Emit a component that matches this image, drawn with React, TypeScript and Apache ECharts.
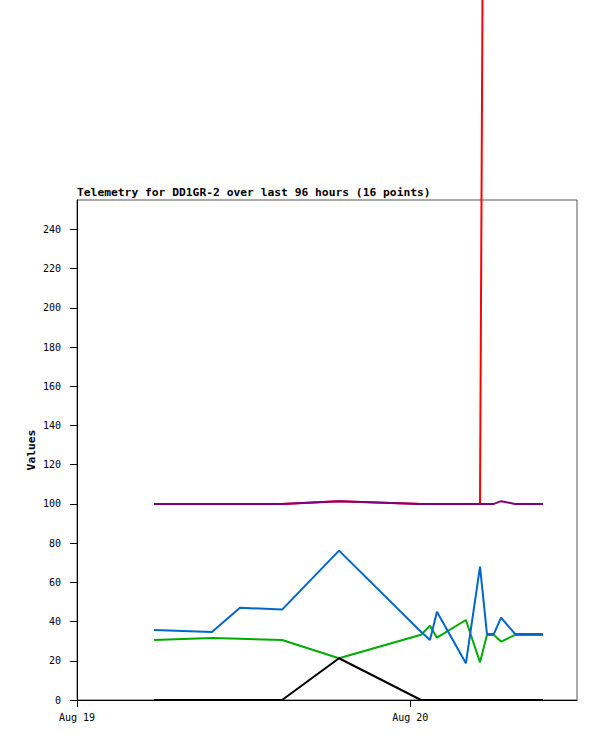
import React, { useEffect, useRef } from "react";
import * as echarts from "echarts";

const times = [
  "2024-08-19 05:33", "2024-08-19 09:43", "2024-08-19 11:44", "2024-08-19 14:46",
  "2024-08-19 18:52", "2024-08-20 00:46", "2024-08-20 01:25", "2024-08-20 01:55",
  "2024-08-20 04:00", "2024-08-20 05:01", "2024-08-20 05:31", "2024-08-20 06:01",
  "2024-08-20 06:32", "2024-08-20 07:32", "2024-08-20 09:33",
];
const redValues = [100, 100, 100, 100, 101.4, 100, 100, 100, 100, 100, 820, null, null, null, null];
const greenValues = [30.6, 31.6, 31.2, 30.6, 21.3, 33.3, 37.9, 31.8, 40.8, 19.2, 33.2, 33.2, 29.8, 33.2, 33.2];
const blueValues = [35.7, 34.7, 47.1, 46.1, 76.2, 34.8, 30.6, 45, 18.7, 68, 33.7, 33.7, 42, 33.7, 33.7];
const blackValues = [0, 0, 0, 0, 21.3, 0, 0, 0, 0, 0, 0, 0, 0, 0, 0];
const purpleValues = [100, 100, 100, 100, 101.4, 100, 100, 100, 100, 100, 100, 100, 101.4, 100, 100];

const xTickDates = ["2024-08-19 00:00", "2024-08-20 00:00"];
const xTickLabels = ["Aug 19", "Aug 20"];
const xMinDate = "2024-08-19 00:00";
const xMaxDate = "2024-08-20 12:00";
const yTicks = [0, 20, 40, 60, 80, 100, 120, 140, 160, 180, 200, 220, 240];
const yMax = 255;
const yAxisTitle = "Values";

const FONT = "DejaVu Sans Mono";

function toHours(s: string): number {
  const [d, hm] = s.split(" ");
  const [y, mo, da] = d.split("-").map(Number);
  const [h, mi] = hm.split(":").map(Number);
  return Date.UTC(y, mo - 1, da, h, mi) / 3600000;
}

export default function App() {
  const ref = useRef<HTMLDivElement>(null);
  useEffect(() => {
    if (!ref.current) return;
    const chart = echarts.init(ref.current, null, { renderer: "svg" });
    const base = toHours(xMinDate);
    const t = times.map((s) => toHours(s) - base);
    const xTickValues = xTickDates.map((s) => toHours(s) - base);
    const mk = (vals: (number | null)[]) => vals.map((v, i) => [t[i], v]);
    const line = (name: string, vals: (number | null)[], color: string, clip = true) => ({
      name,
      type: "line",
      data: mk(vals),
      showSymbol: false,
      symbol: "none",
      clip,
      lineStyle: { color, width: 2 },
      itemStyle: { color },
      emphasis: { disabled: true },
    });
    chart.setOption({
      animation: false,
      title: {
        text: "Telemetry for DD1GR-2 over last 96 hours (16 points)",
        left: 77,
        top: 187,
        padding: 0,
        textStyle: { fontFamily: FONT, fontWeight: "bold", fontSize: 11.3, color: "#000" },
      },
      graphic: [
        {
          type: "text",
          x: 31,
          y: 450,
          rotation: Math.PI / 2,
          style: {
            text: yAxisTitle,
            fontFamily: FONT,
            fontWeight: "bold",
            fontSize: 11.3,
            fill: "#000",
            align: "center",
            verticalAlign: "middle",
          },
        },
      ],
      grid: {
        left: 77,
        top: 200,
        width: 500,
        height: 500,
        show: true,
        borderColor: "#555",
        borderWidth: 1,
        backgroundColor: "transparent",
        containLabel: false,
      },
      xAxis: {
        type: "value",
        min: 0,
        max: toHours(xMaxDate) - base,
        axisLine: { onZero: false, lineStyle: { color: "#000", width: 1 } },
        axisTick: { show: true, length: 7, customValues: xTickValues, lineStyle: { color: "#000" } },
        axisLabel: {
          customValues: xTickValues,
          formatter: (v: number) => {
            const i = xTickValues.indexOf(v);
            return i >= 0 ? xTickLabels[i] : "";
          },
          margin: 12,
          fontFamily: FONT,
          fontSize: 10,
          color: "#000",
        },
        splitLine: { show: false },
      },
      yAxis: {
        type: "value",
        min: 0,
        max: yMax,
        axisLine: { show: true, lineStyle: { color: "#000", width: 1 } },
        axisTick: { show: true, length: 7, customValues: yTicks, lineStyle: { color: "#000" } },
        axisLabel: {
          customValues: yTicks,
          margin: 16,
          fontFamily: FONT,
          fontSize: 10,
          color: "#000",
        },
        splitLine: { show: false },
      },
      series: [
        line("red", redValues, "#ff0000", false),
        line("green", greenValues, "#00aa00"),
        line("blue", blueValues, "#0066cc"),
        line("black", blackValues, "#000000"),
        line("purple", purpleValues, "#7f007f"),
      ],
    });
    return () => chart.dispose();
  }, []);
  return (
    <div
      ref={ref}
      style={{ position: "absolute", left: 0, top: 0, width: 597, height: 741, background: "#fff" }}
    />
  );
}
